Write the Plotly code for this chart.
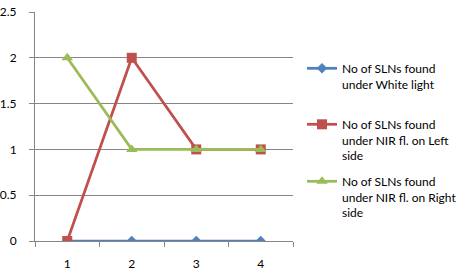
import plotly.graph_objects as go

categories = ["1", "2", "3", "4"]
white_light = [0, 0, 0, 0]
nir_left = [0, 2, 1, 1]
nir_right = [2, 1, 1, 1]
names = [
    "No of SLNs found<br>under White light",
    "No of SLNs found<br>under NIR fl. on Left<br>side",
    "No of SLNs found<br>under NIR fl. on Right<br>side",
]
y_ticks = [0, 0.5, 1, 1.5, 2, 2.5]
y_labels = ["0", "0.5", "1", "1.5", "2", "2.5"]

FONT = "Lato"
W, H = 467, 280
L, R, T, B = 35, 174, 12, 39
pw, ph = W - L - R, H - T - B

def px2x(p):
    return (p - L) / pw

def px2y(p):
    return (H - B - p) / ph

fig = go.Figure()
fig.add_trace(go.Scatter(x=categories, y=white_light, name=names[0], mode="lines+markers",
                         line=dict(color="#4F81BD", width=2.75),
                         marker=dict(symbol="diamond", size=8, color="#4F81BD"),
                         legend="legend"))
fig.add_trace(go.Scatter(x=categories, y=nir_left, name=names[1], mode="lines+markers",
                         line=dict(color="#C0504D", width=2.75),
                         marker=dict(symbol="square", size=10, color="#C0504D"),
                         legend="legend2"))
fig.add_trace(go.Scatter(x=categories, y=nir_right, name=names[2], mode="lines+markers",
                         line=dict(color="#9BBB59", width=2.75),
                         marker=dict(symbol="triangle-up", size=10, color="#9BBB59"),
                         legend="legend3"))

legend_common = dict(font=dict(family=FONT, size=12, color="black"), bgcolor="rgba(0,0,0,0)",
                     xanchor="left", yanchor="top", valign="top", borderwidth=0,
                     tracegroupgap=0, itemwidth=30)
fig.update_layout(
    width=W, height=H,
    margin=dict(l=L, r=R, t=T, b=B, autoexpand=False),
    paper_bgcolor="white", plot_bgcolor="white",
    font=dict(family=FONT, size=12, color="black"),
    showlegend=True,
    legend=dict(x=px2x(302), y=px2y(54), **legend_common),
    legend2=dict(x=px2x(302), y=px2y(110), **legend_common),
    legend3=dict(x=px2x(302), y=px2y(167), **legend_common),
)
fig.update_xaxes(type="category", range=[-0.5, 3.5], tickson="boundaries", ticks="outside",
                 ticklen=5, tickcolor="#868686", showline=True, linecolor="#868686",
                 linewidth=1, showgrid=False, zeroline=False, ticklabelstandoff=12,
                 automargin=False, tickfont=dict(family=FONT, size=12, color="black"))
fig.update_yaxes(range=[0, 2.5], tickvals=y_ticks, ticktext=y_labels, ticks="outside",
                 ticklen=5, tickcolor="#868686", showline=True, linecolor="#868686",
                 linewidth=1, showgrid=True, gridcolor="#868686", gridwidth=1,
                 zeroline=False, ticklabelstandoff=10, automargin=False,
                 tickfont=dict(family=FONT, size=12, color="black"))

fig.write_html("out.html")
